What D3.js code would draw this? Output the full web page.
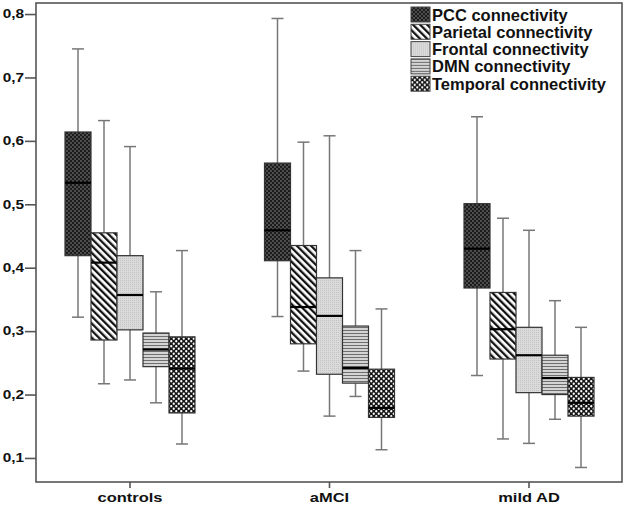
<!DOCTYPE html>
<html><head><meta charset="utf-8">
<script src="https://cdn.jsdelivr.net/npm/d3@7"></script>
<style>body{margin:0;background:#fff}svg{display:block}text{font-family:"Liberation Sans",Arial,sans-serif}</style>
</head><body>
<svg id="c" width="627" height="506"></svg>
<script>
const groups = ["controls", "aMCI", "mild AD"];
const seriesNames = ["PCC connectivity", "Parietal connectivity", "Frontal connectivity", "DMN connectivity", "Temporal connectivity"];
const yTicks = [0.1, 0.2, 0.3, 0.4, 0.5, 0.6, 0.7, 0.8];
// [lower whisker, Q1, median, Q3, upper whisker] for controls, aMCI, mild AD
const pcc      = [[0.322, 0.419, 0.534, 0.614, 0.745], [0.323, 0.411, 0.459, 0.565, 0.793], [0.230, 0.368, 0.430, 0.501, 0.638]];
const parietal = [[0.217, 0.286, 0.408, 0.455, 0.632], [0.237, 0.280, 0.338, 0.435, 0.598], [0.130, 0.256, 0.303, 0.361, 0.478]];
const frontal  = [[0.223, 0.302, 0.357, 0.419, 0.591], [0.166, 0.232, 0.324, 0.384, 0.608], [0.123, 0.203, 0.262, 0.306, 0.459]];
const dmn      = [[0.187, 0.244, 0.271, 0.297, 0.362], [0.197, 0.218, 0.242, 0.308, 0.427], [0.161, 0.200, 0.226, 0.262, 0.348]];
const temporal = [[0.122, 0.171, 0.241, 0.291, 0.427], [0.113, 0.164, 0.179, 0.240, 0.335], [0.085, 0.166, 0.187, 0.227, 0.306]];

const seriesData = [pcc, parietal, frontal, dmn, temporal];
const patIds = ["pPCC", "pPar", "pFro", "pDMN", "pTem"];

(function () {
const svg = d3.select("#c");
const defs = svg.append("defs");
// PCC: dark with light dots
let p = defs.append("pattern").attr("id", "pPCC").attr("patternUnits", "userSpaceOnUse").attr("width", 4).attr("height", 4);
p.append("rect").attr("width", 4).attr("height", 4).attr("fill", "#1c1c1c");
p.append("circle").attr("cx", 1).attr("cy", 1).attr("r", 0.8).attr("fill", "#8a8a8a");
p.append("circle").attr("cx", 3).attr("cy", 3).attr("r", 0.8).attr("fill", "#8a8a8a");
// Parietal: diagonal stripes
p = defs.append("pattern").attr("id", "pPar").attr("patternUnits", "userSpaceOnUse").attr("width", 5).attr("height", 5).attr("patternTransform", "rotate(-45)");
p.append("rect").attr("width", 5).attr("height", 5).attr("fill", "#fff");
p.append("rect").attr("width", 2.3).attr("height", 5).attr("fill", "#111");
// Frontal: light grey fine dots
p = defs.append("pattern").attr("id", "pFro").attr("patternUnits", "userSpaceOnUse").attr("width", 2).attr("height", 2);
p.append("rect").attr("width", 2).attr("height", 2).attr("fill", "#dadada");
p.append("rect").attr("width", 1).attr("height", 1).attr("fill", "#c4c4c4");
// DMN: horizontal lines
p = defs.append("pattern").attr("id", "pDMN").attr("patternUnits", "userSpaceOnUse").attr("width", 3).attr("height", 3);
p.append("rect").attr("width", 3).attr("height", 3).attr("fill", "#d4d4d4");
p.append("rect").attr("width", 3).attr("height", 1).attr("fill", "#6e6e6e");
// Temporal: white dots on black
p = defs.append("pattern").attr("id", "pTem").attr("patternUnits", "userSpaceOnUse").attr("width", 5).attr("height", 5);
p.append("rect").attr("width", 5).attr("height", 5).attr("fill", "#151515");
p.append("circle").attr("cx", 1.25).attr("cy", 1.25).attr("r", 1.15).attr("fill", "#fff");
p.append("circle").attr("cx", 3.75).attr("cy", 3.75).attr("r", 1.15).attr("fill", "#fff");

const mLeft = 36, mRight = 622, mTop = 3, mBottom = 482;
const y = d3.scaleLinear().domain([0.0621, 0.8174]).range([mBottom, mTop]);
const x = d3.scaleBand().domain(groups).range([30.25, 628.75]);
const sub = d3.scaleBand().domain(seriesNames).range([0, 130]);
const bw = sub.bandwidth();
const offset = (x.bandwidth() - 130) / 2;

// frame
svg.append("rect").attr("x", mLeft).attr("y", mTop).attr("width", mRight - mLeft).attr("height", mBottom - mTop)
  .attr("fill", "none").attr("stroke", "#555").attr("stroke-width", 1.6);

// y axis
const ya = svg.append("g").attr("transform", `translate(${mLeft},0)`)
  .call(d3.axisLeft(y).tickValues(yTicks).tickSize(11).tickPadding(2).tickFormat(d => d3.format(".1f")(d).replace(".", ",")));
ya.select(".domain").remove();
ya.selectAll("line").attr("stroke", "#555").attr("stroke-width", 1.6);
ya.selectAll("text").attr("font-size", 12).attr("font-weight", "bold").attr("fill", "#111")
  .attr("transform", "scale(1.28,1)").attr("x", -12 / 1.28);

// x axis
const xa = svg.append("g").attr("transform", `translate(0,${mBottom})`)
  .call(d3.axisBottom(x).tickSize(6).tickSizeOuter(0).tickPadding(4));
xa.select(".domain").remove();
xa.selectAll("line").attr("stroke", "#555").attr("stroke-width", 1.6);
xa.selectAll("text").attr("font-size", 13.5).attr("font-weight", "bold").attr("fill", "#111")
  .attr("transform", "scale(1.22,1)");

// boxes
seriesData.forEach((ser, si) => {
  const gS = svg.append("g");
  ser.forEach((st, gi) => {
    const x0 = x(groups[gi]) + offset + sub(seriesNames[si]);
    const cx = x0 + bw / 2;
    const g = gS.append("g");
    g.append("line").attr("x1", cx).attr("x2", cx).attr("y1", y(st[4])).attr("y2", y(st[3])).attr("stroke", "#777").attr("stroke-width", 1.5);
    g.append("line").attr("x1", cx).attr("x2", cx).attr("y1", y(st[1])).attr("y2", y(st[0])).attr("stroke", "#777").attr("stroke-width", 1.5);
    g.append("line").attr("x1", cx - 6).attr("x2", cx + 6).attr("y1", y(st[4])).attr("y2", y(st[4])).attr("stroke", "#777").attr("stroke-width", 1.5);
    g.append("line").attr("x1", cx - 6).attr("x2", cx + 6).attr("y1", y(st[0])).attr("y2", y(st[0])).attr("stroke", "#777").attr("stroke-width", 1.5);
    g.append("rect").attr("x", x0).attr("y", y(st[3])).attr("width", bw).attr("height", y(st[1]) - y(st[3]))
      .attr("fill", `url(#${patIds[si]})`).attr("stroke", "#333").attr("stroke-width", 1.2);
    g.append("line").attr("x1", x0).attr("x2", x0 + bw).attr("y1", y(st[2])).attr("y2", y(st[2])).attr("stroke", "#000").attr("stroke-width", 2.2);
  });
});

// legend
const lg = svg.append("g").attr("transform", "translate(411,7)");
seriesNames.forEach((n, i) => {
  const r = lg.append("g").attr("transform", `translate(0,${i * 17.3})`);
  r.append("rect").attr("width", 19).attr("height", 15).attr("fill", `url(#${patIds[i]})`).attr("stroke", "#444").attr("stroke-width", 1);
  r.append("text").attr("x", 21).attr("y", 13.5).attr("font-size", 16.5).attr("font-weight", "bold").attr("fill", "#111").text(n);
});
})();
</script>
</body></html>
